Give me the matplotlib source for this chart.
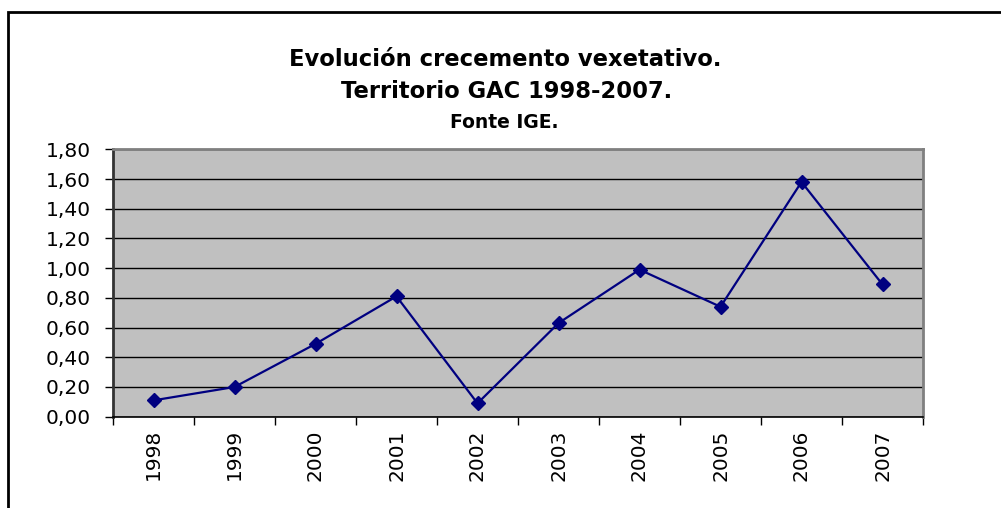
import matplotlib
matplotlib.use("Agg")
import matplotlib.pyplot as plt
from matplotlib.patches import Rectangle

years = ["1998", "1999", "2000", "2001", "2002", "2003", "2004", "2005", "2006", "2007"]
values = [0.11, 0.20, 0.49, 0.81, 0.09, 0.63, 0.99, 0.74, 1.58, 0.89]
yticks = [0.0, 0.2, 0.4, 0.6, 0.8, 1.0, 1.2, 1.4, 1.6, 1.8]
ytick_labels = ["0,00", "0,20", "0,40", "0,60", "0,80", "1,00", "1,20", "1,40", "1,60", "1,80"]
title_lines = ["Evolución crecemento vexetativo.", "Territorio GAC 1998-2007."]
subtitle = "Fonte IGE."

plt.rcParams['font.family'] = ['DejaVu Sans']

W, H = 1001, 508
fig = plt.figure(figsize=(W / 100, H / 100), dpi=100)

# outer chart border (left and top visible)
fig.patches.append(Rectangle((8 / W, -0.1), 1.2, (H - 12.5) / H + 0.1,
                             transform=fig.transFigure, fill=False,
                             edgecolor='black', linewidth=2))

L, R, T, B = 113, 923, 149.3, 416.7
ax = fig.add_axes([L / W, (H - B) / H, (R - L) / W, (B - T) / H])
ax.set_facecolor('#C0C0C0')

x = list(range(len(years)))
ax.plot(x, values, color='#000080', linewidth=1.6, marker='D', markersize=7,
        markerfacecolor='#000080', markeredgecolor='#000080', zorder=3)

ax.set_xlim(-0.5, len(years) - 0.5)
ax.set_ylim(0, 1.8)
ax.set_yticks(yticks)
ax.set_yticklabels(ytick_labels, fontsize=14.5)
ax.yaxis.grid(True, color='black', linewidth=1)
ax.set_axisbelow(True)

ax.set_xticks([i - 0.5 for i in range(len(years) + 1)])
ax.set_xticklabels([])
ax.set_xticks(x, minor=True)
ax.set_xticklabels(years, minor=True, rotation=90, fontsize=14.5)
ax.tick_params(axis='x', which='minor', length=0, pad=9)
ax.tick_params(axis='x', which='major', length=6, width=1, color='black', direction='out')
ax.tick_params(axis='y', length=6, width=1, color='black', direction='out', pad=10)

for s in ['top', 'right']:
    ax.spines[s].set_color('#808080')
    ax.spines[s].set_linewidth(2)
ax.spines['left'].set_color('#333333')
ax.spines['left'].set_linewidth(2)
ax.spines['bottom'].set_color('black')
ax.spines['bottom'].set_linewidth(1.2)

fig.text(505 / W, (H - 60) / H, title_lines[0], ha='center', va='center', fontsize=16.3, fontweight='bold')
fig.text(507 / W, (H - 91) / H, title_lines[1], ha='center', va='center', fontsize=16.3, fontweight='bold')
fig.text(504 / W, (H - 122) / H, subtitle, ha='center', va='center', fontsize=13.5, fontweight='bold')

fig.savefig('out.png', dpi=100)
